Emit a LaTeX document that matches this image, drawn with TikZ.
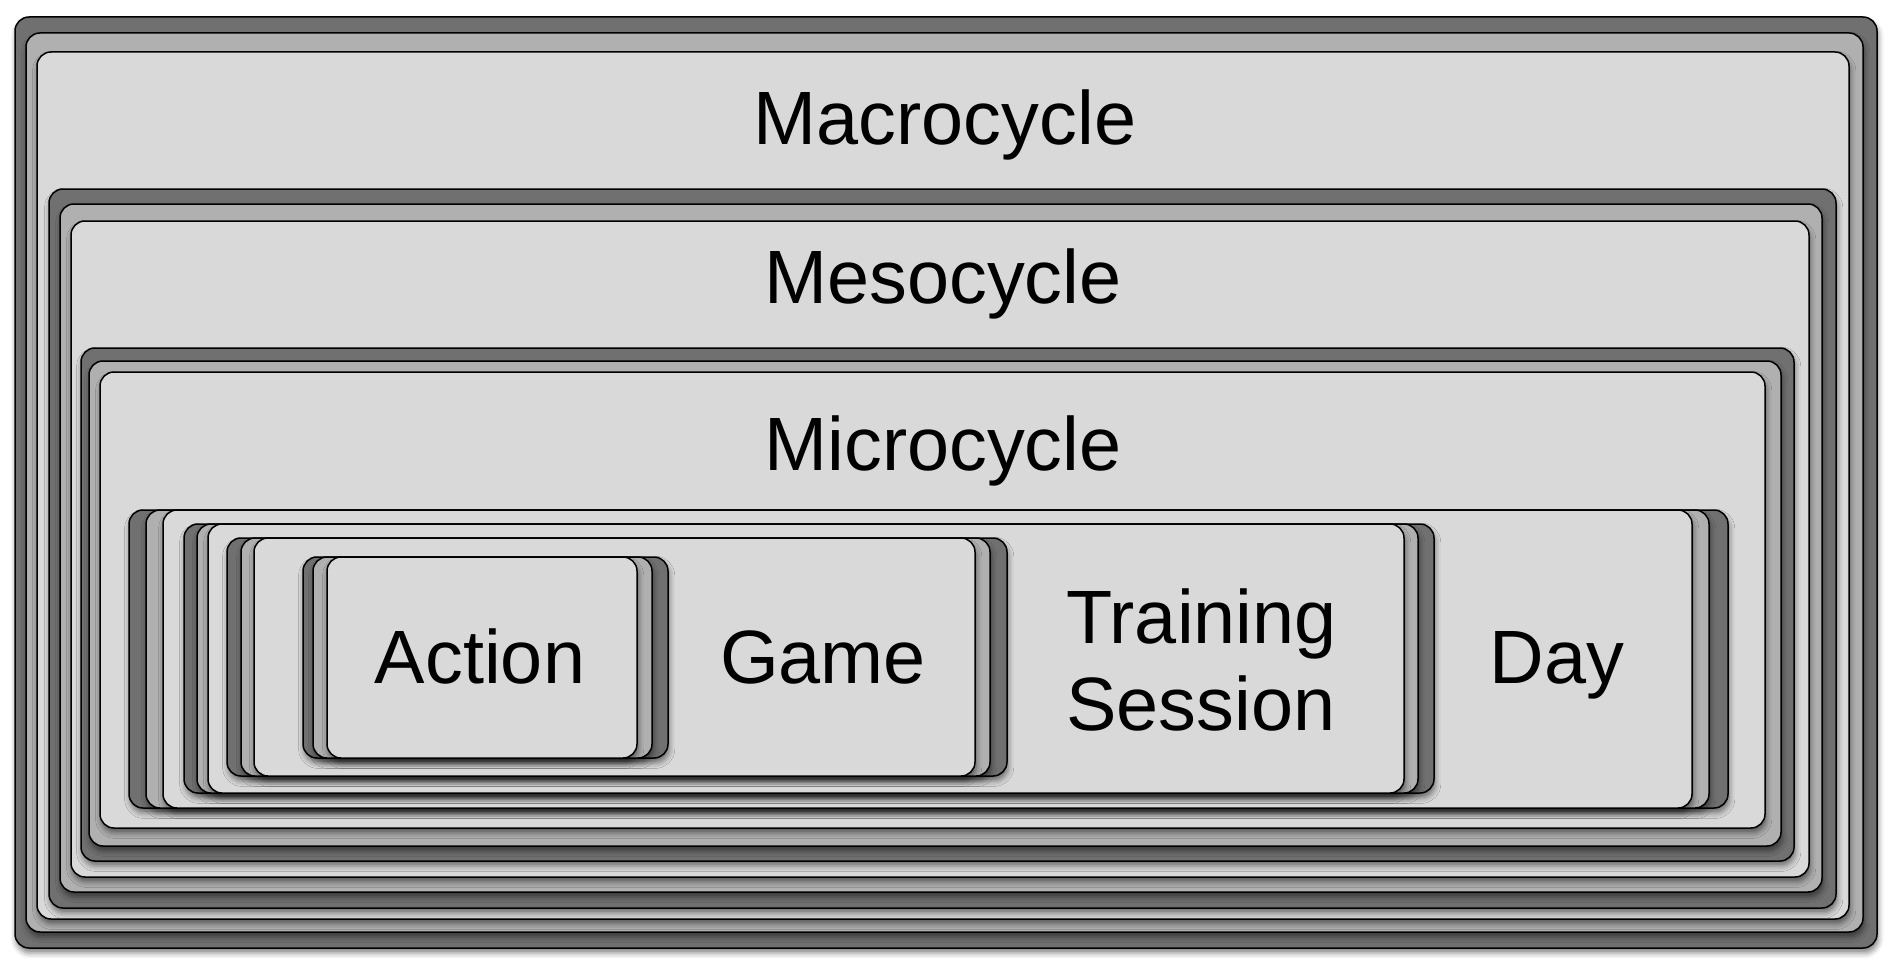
\documentclass[tikz,border=0pt]{standalone}
\usepackage{fontspec}
\setmainfont{Liberation Sans}
\usetikzlibrary{shadows.blur}
\definecolor{cdark}{RGB}{112,112,112}
\definecolor{cmid}{RGB}{176,176,176}
\definecolor{cfront}{RGB}{217,217,217}
\tikzset{
  cardbase/.style={draw=black, line width=0.75pt, rounded corners=7pt,
    blur shadow={shadow xshift=0.6pt, shadow yshift=-2.4pt, shadow blur radius=2.8pt, shadow opacity=50}},
  darkcard/.style={cardbase, fill=cdark},
  midcard/.style={cardbase, fill=cmid},
  frontcard/.style={cardbase, fill=cfront},
  lbl/.style={inner sep=0pt, font=\fontsize{37.8}{43.5}\selectfont, text=black},
}
\begin{document}
\begin{tikzpicture}[x=0.5pt, y=-0.5pt]
\useasboundingbox (0,0) rectangle (1899,974);
% Macrocycle
\path[darkcard]  (15,17) rectangle (1877,948);
\path[midcard]   (26,33) rectangle (1863,932);
\path[frontcard] (37,52) rectangle (1849,919);
\node[lbl, anchor=base] (macro) at (945,144) {Macrocycle};
% Mesocycle
\path[darkcard]  (49,189) rectangle (1836,908);
\path[midcard]   (60,204) rectangle (1822,892);
\path[frontcard] (71,221) rectangle (1809,877);
\node[lbl, anchor=base] (meso) at (943,303) {Mesocycle};
% Microcycle
\path[darkcard]  (81,348) rectangle (1794,861);
\path[midcard]   (89,361) rectangle (1781,846);
\path[frontcard] (100,372) rectangle (1765,828);
\node[lbl, anchor=base] (micro) at (943,470) {Microcycle};
% Day
\path[darkcard]  (129,510) rectangle (1728,808);
\path[midcard]   (146,510) rectangle (1709,808);
\path[frontcard] (163,510) rectangle (1692,808);
\node[lbl, anchor=base] (day) at (1557,683) {Day};
% Training Session
\path[darkcard]  (184,524) rectangle (1434,793);
\path[midcard]   (197,524) rectangle (1418,793);
\path[frontcard] (208,524) rectangle (1404,793);
\node[lbl, anchor=west, align=left] (session) at (1066,659.5) {Training\\Session};
% Game
\path[darkcard]  (227,538) rectangle (1007,776);
\path[midcard]   (241,538) rectangle (990,776);
\path[frontcard] (254,538) rectangle (975,776);
\node[lbl, anchor=base] (game) at (823,683) {Game};
% Action
\path[darkcard]  (303,557) rectangle (668,758);
\path[midcard]   (313,557) rectangle (652,758);
\path[frontcard] (327,557) rectangle (637,758);
\node[lbl, anchor=base] (action) at (480,683) {Action};
\end{tikzpicture}
\end{document}
